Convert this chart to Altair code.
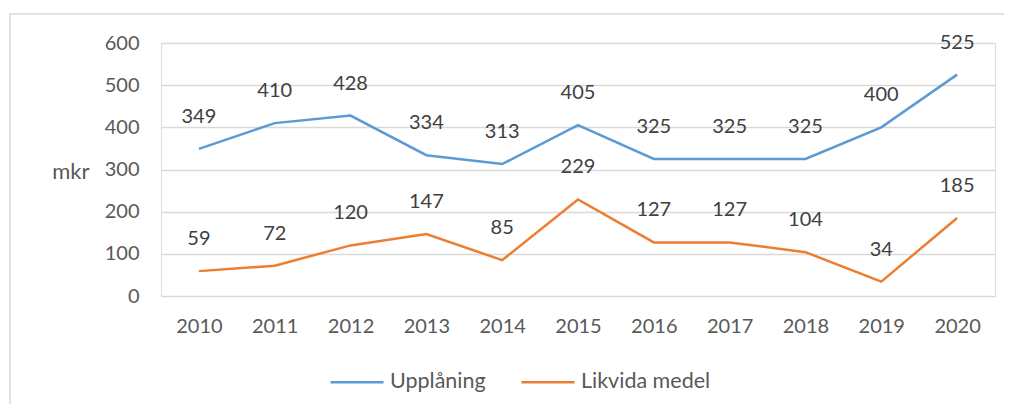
import altair as alt
import pandas as pd

years = ["2010", "2011", "2012", "2013", "2014", "2015", "2016", "2017", "2018", "2019", "2020"]
upplaning = [349, 410, 428, 334, 313, 405, 325, 325, 325, 400, 525]
likvida = [59, 72, 120, 147, 85, 229, 127, 127, 104, 34, 185]
series_names = ["Upplåning", "Likvida medel"]
series_colors = ["#5B9BD5", "#ED7D31"]
y_ticks = [0, 100, 200, 300, 400, 500, 600]

rows = []
for name, vals in zip(series_names, [upplaning, likvida]):
    for y, v in zip(years, vals):
        rows.append({"year": y, "value": v, "series": name})
df = pd.DataFrame(rows)

FONT = "Lato"

x = alt.X("year:O", title=None,
          axis=alt.Axis(labelAngle=0, domain=False, ticks=False, labelPadding=20,
                        labelFontSize=20, labelColor="#595959", labelFont=FONT))
y = alt.Y("value:Q", scale=alt.Scale(domain=[0, 600], nice=False),
          axis=alt.Axis(values=y_ticks, domain=False, ticks=False, labelPadding=22,
                        labelFontSize=20, labelColor="#595959", labelFont=FONT,
                        gridColor="#D9D9D9", gridWidth=1.3,
                        title="mkr", titleAngle=0, titleFontSize=22, titleFontWeight="normal",
                        titleColor="#595959", titleFont=FONT, titleAlign="right",
                        titleBaseline="middle", titleX=-72, titleY=128))
color = alt.Color("series:N", scale=alt.Scale(domain=series_names, range=series_colors),
                  legend=alt.Legend(title=None, orient="none", direction="horizontal",
                                    legendX=168, legendY=311, symbolType="stroke",
                                    symbolSize=2809, symbolStrokeWidth=2.5,
                                    labelFontSize=21.5, labelColor="#595959", labelFont=FONT,
                                    labelOffset=5, columnPadding=30))

border = alt.Chart(pd.DataFrame({"a": [0]})).mark_rect(
    fill=None, stroke="#D9D9D9", strokeWidth=1.5
).encode(x=alt.value(-151), x2=alt.value(870), y=alt.value(-29), y2=alt.value(400))

lines = alt.Chart(df).mark_line(strokeWidth=2.5).encode(
    x=x, y=y, color=color, detail="series:N"
)
labels = alt.Chart(df).mark_text(dy=-32, baseline="middle", fontSize=20,
                                 font=FONT, color="#404040").encode(
    x=alt.X("year:O"), y=alt.Y("value:Q"), text="value:Q"
)

chart = alt.layer(border, lines, labels).properties(
    width=834, height=253,
    autosize=alt.AutoSizeParams(type="none"),
    padding={"left": 153, "top": 35, "right": 9, "bottom": 108},
).configure_view(stroke=None).configure(background="white")

chart.save("out.html", embed_options={"renderer": "svg", "actions": False})
